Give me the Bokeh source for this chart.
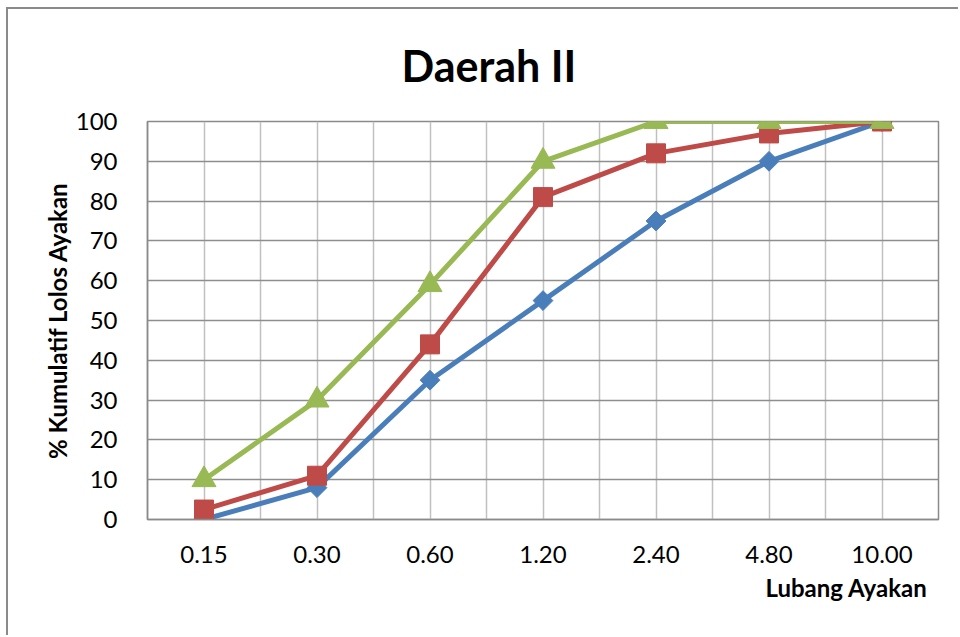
import math
from bokeh.plotting import figure
from bokeh.models import Range1d, FixedTicker, Title, ColumnDataSource
from bokeh.embed import file_html
from bokeh.resources import INLINE

# ---- data ----
lubang = ["0.15", "0.30", "0.60", "1.20", "2.40", "4.80", "10.00"]
batas_bawah = [0, 8, 35, 55, 75, 90, 100]
hasil = [2.5, 11, 44, 81, 92, 97, 100]
batas_atas = [10, 30, 59, 90, 100, 100, 100]
y_ticks = [0, 10, 20, 30, 40, 50, 60, 70, 80, 90, 100]

xpos = [i + 0.5 for i in range(len(lubang))]
src = ColumnDataSource(dict(x=xpos, bawah=batas_bawah, hasil=hasil, atas=batas_atas))

FONT = "Lato"

p = figure(width=952, height=628, output_backend="svg", toolbar_location=None,
           x_range=Range1d(0, len(lubang)), y_range=Range1d(0, 100),
           min_border_left=139, min_border_right=22, min_border_top=112, min_border_bottom=118)
p.styles = {"margin-left": "6px", "margin-top": "7px",
            "border-left": "2px solid #8a8a8a", "border-top": "2px solid #8a8a8a"}
p.background_fill_color = "white"
p.border_fill_color = "white"
p.outline_line_color = "#8a8a8a"
p.outline_line_width = 1.5

# title
p.title.text = "Daerah II"
p.title.align = "left"
p.title.vertical_align = "top"
p.title.offset = 254
p.title.standoff = 58
p.title.text_font = FONT
p.title.text_font_style = "bold"
p.title.text_font_size = "43px"
p.title.text_color = "black"

# axes
p.xaxis.ticker = FixedTicker(ticks=xpos)
p.xaxis.major_label_overrides = {x: lab for x, lab in zip(xpos, lubang)}
p.yaxis.ticker = FixedTicker(ticks=y_ticks)
for ax in (p.xaxis, p.yaxis):
    ax.axis_line_color = "#8a8a8a"
    ax.axis_line_width = 1.5
    ax.major_tick_line_color = None
    ax.minor_tick_line_color = None
    ax.major_label_text_font = FONT
    ax.major_label_text_font_size = "24px"
    ax.major_label_text_color = "black"
p.yaxis.major_label_standoff = 24
p.xaxis.major_label_standoff = 20

p.yaxis.axis_label = "% Kumulatif Lolos Ayakan"
p.yaxis.axis_label_text_font = FONT
p.yaxis.axis_label_text_font_style = "bold"
p.yaxis.axis_label_text_font_size = "24px"
p.yaxis.axis_label_text_color = "black"
p.yaxis.axis_label_standoff = 1

xtitle = Title(text="Lubang Ayakan", align="right", offset=11, standoff=10,
               text_font=FONT, text_font_style="bold", text_font_size="24px",
               text_color="black")
p.add_layout(xtitle, "below")

# grids
p.xgrid.ticker = FixedTicker(ticks=[i * 0.5 for i in range(0, 2 * len(lubang) + 1)])
p.xgrid.grid_line_color = "#c0c0c0"
p.xgrid.grid_line_width = 1.5
p.ygrid.ticker = FixedTicker(ticks=y_ticks)
p.ygrid.grid_line_color = "#8e8e8e"
p.ygrid.grid_line_width = 1.5

# series
blue, red, green = "#4A7EBB", "#BE4B48", "#98B954"
p.line("x", "bawah", source=src, line_color=blue, line_width=5)
p.scatter("x", "bawah", source=src, marker="square", angle=math.pi / 4, size=14,
          fill_color=blue, line_color=blue)
p.line("x", "hasil", source=src, line_color=red, line_width=5)
p.scatter("x", "hasil", source=src, marker="square", size=19,
          fill_color=red, line_color=red)
p.line("x", "atas", source=src, line_color=green, line_width=5)
p.scatter("x", "atas", source=src, marker="triangle", size=24,
          fill_color=green, line_color=green)

open("out.html", "w").write(file_html(p, INLINE))
